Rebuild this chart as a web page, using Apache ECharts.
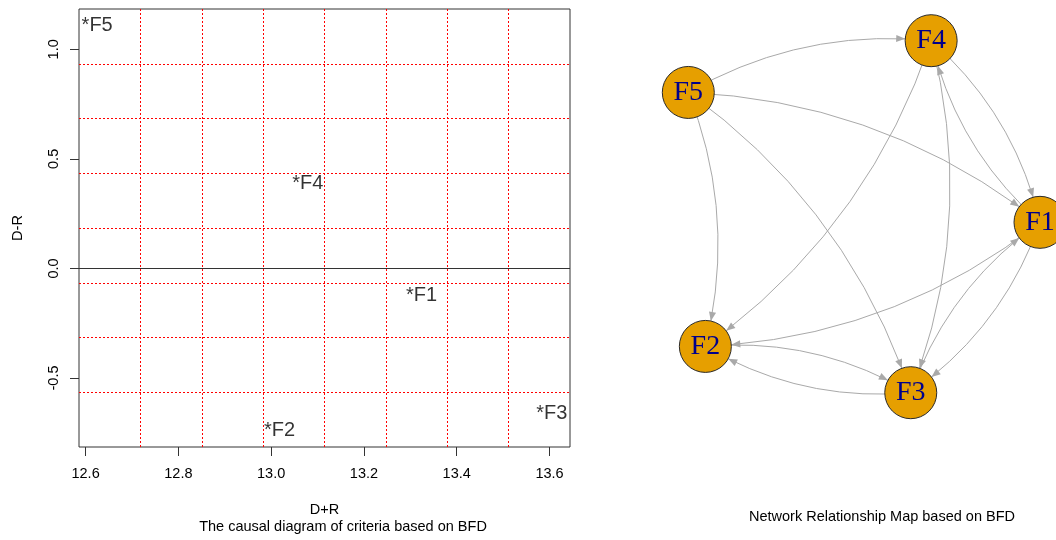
<!DOCTYPE html>
<html>
<head>
<meta charset="utf-8">
<script src="https://cdn.jsdelivr.net/npm/echarts@6/dist/echarts.min.js"></script>
<style>
  html, body { margin: 0; padding: 0; background: #ffffff; }
  #chart { width: 1056px; height: 540px; }
</style>
</head>
<body>
<div id="chart"></div>
<script>
// Factor names
const factors = ['F1', 'F2', 'F3', 'F4', 'F5'];
// Prominence (D+R) and relation (D-R) of each factor
const prominence = [13.324, 13.018, 13.605, 13.079, 12.625];
const relation = [-0.122, -0.741, -0.661, 0.389, 1.110];
// Tick values of the causal diagram
const xTicks = [12.6, 12.8, 13.0, 13.2, 13.4, 13.6];
const yTicks = [-0.5, 0.0, 0.5, 1.0];
// Network layout coordinates, normalised to [-1, 1]
const nodeX = [1.0, -0.903, 0.265, 0.381, -1.0];
const nodeY = [-0.032, -0.737, -1.0, 1.0, 0.706];
// Directed influence relations between factors
const linkFrom = ['F5', 'F5', 'F5', 'F5', 'F4', 'F4', 'F4', 'F1', 'F1', 'F1', 'F3', 'F2', 'F3'];
const linkTo   = ['F4', 'F1', 'F2', 'F3', 'F2', 'F3', 'F1', 'F4', 'F2', 'F3', 'F1', 'F3', 'F2'];

// Axis extents padded by 4% of the data range on each side
function paddedRange(values) {
  const lo = Math.min(...values), hi = Math.max(...values);
  const pad = (hi - lo) * 0.04;
  return [lo - pad, hi + pad];
}
const xRange = paddedRange(prominence);
const yRange = paddedRange(relation);
const gridDivisions = 8;

const sansFont = '"Liberation Sans", Arial, sans-serif';
const serifFont = '"Liberation Serif", "Times New Roman", serif';
const textSize = 14.5;

// Arrow head whose tip sits at the centre of its symbol box, so it ends on the node rim
const arrowHead = 'path://M9,9 L12.6,18 L5.4,18 Z M0,0 L0,0 M18,18 L18,18';

const scatterData = factors.map((f, i) => ({ name: f, value: [prominence[i], relation[i]] }));
const nodeData = factors.map((f, i) => ({ name: f, value: [nodeX[i], nodeY[i]] }));
const linkData = linkFrom.map((s, i) => ({ source: s, target: linkTo[i] }));

const gridLineStyle = { color: '#ff0000', width: 1, type: [2, 2] };

const chart = echarts.init(document.getElementById('chart'), null, { renderer: 'canvas' });
chart.setOption({
  animation: false,
  backgroundColor: '#ffffff',
  grid: [
    { left: 79, top: 9, width: 491, height: 438, show: true, borderColor: '#333333', borderWidth: 1, backgroundColor: 'transparent' },
    { left: 688.3, top: 40.7, width: 351.7, height: 352 }
  ],
  xAxis: [
    {
      type: 'value', gridIndex: 0, min: xRange[0], max: xRange[1],
      name: 'D+R', nameLocation: 'middle', nameGap: 55,
      nameTextStyle: { fontFamily: sansFont, fontSize: textSize, color: '#000' },
      axisLine: { show: false, onZero: false },
      axisTick: { show: true, customValues: xTicks, length: 9, lineStyle: { color: '#333333' } },
      axisLabel: { customValues: xTicks, margin: 19, fontFamily: sansFont, fontSize: textSize, color: '#000',
                   formatter: v => v.toFixed(1) },
      splitLine: { show: false }
    },
    {
      type: 'value', gridIndex: 0, min: 0, max: gridDivisions, interval: 1,
      axisLine: { show: false, onZero: false }, axisTick: { show: false }, axisLabel: { show: false },
      splitLine: { show: true, showMinLine: false, showMaxLine: false, lineStyle: gridLineStyle }
    },
    { type: 'value', gridIndex: 1, min: -1, max: 1, show: false }
  ],
  yAxis: [
    {
      type: 'value', gridIndex: 0, min: yRange[0], max: yRange[1],
      name: 'D-R', nameLocation: 'middle', nameGap: 54,
      nameTextStyle: { fontFamily: sansFont, fontSize: textSize, color: '#000' },
      axisLine: { show: false, onZero: false },
      axisTick: { show: true, customValues: yTicks, length: 9, lineStyle: { color: '#333333' } },
      axisLabel: { customValues: yTicks, margin: 18, rotate: 90, fontFamily: sansFont, fontSize: textSize, color: '#000',
                   formatter: v => v.toFixed(1) },
      splitLine: { show: false }
    },
    {
      type: 'value', gridIndex: 0, min: 0, max: gridDivisions, interval: 1,
      axisLine: { show: false, onZero: false }, axisTick: { show: false }, axisLabel: { show: false },
      splitLine: { show: true, showMinLine: false, showMaxLine: false, lineStyle: gridLineStyle }
    },
    { type: 'value', gridIndex: 1, min: -1, max: 1, show: false }
  ],
  graphic: [
    { type: 'text', x: 343, y: 527, silent: true,
      style: { text: 'The causal diagram of criteria based on BFD', fill: '#000', font: textSize + 'px ' + sansFont,
               textAlign: 'center', textVerticalAlign: 'middle' } },
    { type: 'text', x: 882, y: 517, silent: true,
      style: { text: 'Network Relationship Map based on BFD', fill: '#000', font: textSize + 'px ' + sansFont,
               textAlign: 'center', textVerticalAlign: 'middle' } }
  ],
  series: [
    {
      type: 'scatter', xAxisIndex: 0, yAxisIndex: 0,
      data: scatterData,
      symbol: 'circle', symbolSize: 1,
      itemStyle: { color: 'rgba(0,0,0,0)' },
      label: { show: true, position: 'inside', formatter: '*{b}', fontFamily: sansFont, fontSize: 20, color: '#000' },
      emphasis: { disabled: true },
      silent: true,
      markLine: {
        silent: true, symbol: ['none', 'none'], label: { show: false },
        lineStyle: { color: '#333333', width: 1, type: 'solid' },
        data: [{ yAxis: 0 }]
      }
    },
    {
      type: 'graph', coordinateSystem: 'cartesian2d', xAxisIndex: 2, yAxisIndex: 2,
      layout: 'none',
      data: nodeData,
      links: linkData,
      symbol: 'circle', symbolSize: 52,
      itemStyle: { color: '#E69F00', borderColor: '#2a2a2a', borderWidth: 1 },
      label: { show: true, position: 'inside', fontFamily: serifFont, fontSize: 28, color: '#00008B' },
      edgeSymbol: ['none', arrowHead],
      edgeSymbolSize: 18,
      lineStyle: { color: '#A9A9A9', width: 1, curveness: 0.16, opacity: 1 },
      emphasis: { disabled: true },
      silent: true
    }
  ]
});
</script>
</body>
</html>
